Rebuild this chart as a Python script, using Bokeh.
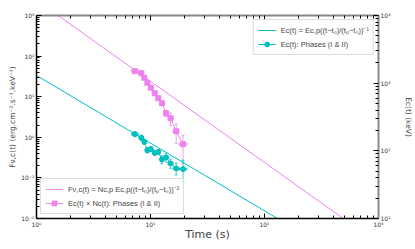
import numpy as np
from bokeh.plotting import figure
from bokeh.models import (Range1d, LogScale, LogAxis, FixedTicker, CustomJSTickFormatter,
                          Whisker, TeeHead, ColumnDataSource, Legend, LegendItem, Label)
from bokeh.embed import file_html
from bokeh.resources import INLINE

# ---------------- data ----------------
title_text = "160530667"
time_s = [7.30, 8.31, 8.83, 9.38, 10.07, 10.9, 11.7, 12.6, 13.7, 15.0, 16.8, 19.3]
time_err = [0.5, 0.35, 0.3, 0.3, 0.35, 0.4, 0.4, 0.45, 0.55, 0.7, 1.0, 1.6]
flux = [42.5, 37.9, 29.4, 22.1, 16.7, 12.2, 9.18, 6.92, 3.92, 2.95, 1.41, 0.676]
flux_err = [3.0, 3.0, 2.5, 2.0, 1.6, 1.2, 1.0, 0.9, 0.7, 1.0, 0.7, 0.45]
ec_kev = [176.6, 156.0, 136.0, 102.0, 106.0, 93.3, 96.6, 74.6, 80.0, 65.2, 55.0, 53.7]
ec_err = [15.0, 14.0, 12.0, 9.0, 9.0, 8.0, 8.0, 10.0, 12.0, 10.0, 11.0, 19.0]

flux_norm, flux_index = 2400.0, -2.0   # F(t) = norm * t^index
ec_norm, ec_index = 1300.0, -1.0       # Ec(t) = norm * t^index
model_t = [1.0, 1000.0]

x_decades = [0, 1, 2, 3]
y_decades = [-2, -1, 0, 1, 2, 3]
ec_decades = [1, 2, 3, 4]

MAG = "#EE82EE"
CYA = "#00BFBF"
FONT = "DejaVu Sans"

# ---------------- derived ----------------
t = np.array(time_s); te = np.array(time_err)
f = np.array(flux); fe = np.array(flux_err)
e = np.array(ec_kev); ee = np.array(ec_err)
mt = np.array(model_t)

src = ColumnDataSource(dict(t=t, t_lo=t - te, t_hi=t + te,
                            f=f, f_lo=f - fe, f_hi=f + fe,
                            e=e, e_lo=e - ee, e_hi=e + ee))
msrc = ColumnDataSource(dict(t=mt, f=flux_norm * mt ** flux_index, e=ec_norm * mt ** ec_index))

def ticker(decs):
    major = [10.0 ** d for d in decs]
    minor = [m * 10.0 ** d for d in decs[:-1] for m in range(2, 10)]
    return FixedTicker(ticks=major, minor_ticks=minor)

fmt_code = """
const sup = {"-":"\u207b","0":"\u2070","1":"\u00b9","2":"\u00b2","3":"\u00b3","4":"\u2074",
             "5":"\u2075","6":"\u2076","7":"\u2077","8":"\u2078","9":"\u2079"};
const e = Math.round(Math.log10(tick));
return "10" + String(e).split("").map(c => sup[c]).join("");
"""

p = figure(width=415, height=249, x_axis_type="log", y_axis_type="log",
           x_range=Range1d(10.0 ** x_decades[0], 10.0 ** x_decades[-1]),
           y_range=Range1d(10.0 ** y_decades[0], 10.0 ** y_decades[-1]),
           output_backend="svg", toolbar_location=None,
           min_border_left=36, min_border_right=34, min_border_top=15, min_border_bottom=31)
p.xgrid.visible = False
p.ygrid.visible = False
p.outline_line_color = "black"
p.outline_line_width = 1
p.background_fill_color = "white"

p.extra_y_ranges = {"ec": Range1d(10.0 ** ec_decades[0], 10.0 ** ec_decades[-1])}
p.extra_y_scales = {"ec": LogScale()}

def style_axis(ax, decs, label_size="6px"):
    ax.ticker = ticker(decs)
    ax.formatter = CustomJSTickFormatter(code=fmt_code)
    ax.major_tick_in = 5
    ax.major_tick_out = 0
    ax.minor_tick_in = 3
    ax.minor_tick_out = 0
    ax.major_label_text_font = FONT
    ax.major_label_text_font_size = label_size
    ax.major_label_text_color = "#333333"
    ax.axis_label_text_font = FONT
    ax.axis_label_text_font_style = "normal"
    ax.major_label_standoff = 2

xa = p.xaxis[0]
style_axis(xa, x_decades)
xa.axis_label = "Time (s)"
xa.axis_label_text_font_size = "11px"
xa.axis_label_standoff = -3
xa.axis_line_width = 1.5

ya = p.yaxis[0]
style_axis(ya, y_decades)
ya.axis_label = "F\u03bd,c(t) (erg.cm\u207b\u00b2.s\u207b\u00b9.keV\u207b\u00b9)"
ya.axis_label_text_font_size = "7.5px"
ya.axis_label_standoff = 1
ya.axis_line_width = 1.5

ra = LogAxis(y_range_name="ec")
style_axis(ra, ec_decades)
ra.axis_label = "Ec(t) (keV)"
ra.axis_label_text_font_size = "7.5px"
ra.axis_label_standoff = 10
ra.axis_line_color = "#888888"
ra.axis_line_width = 2
p.add_layout(ra, "right")

ta = LogAxis()
ta.ticker = ticker(x_decades)
ta.formatter = CustomJSTickFormatter(code="return '';")
ta.major_tick_in = 5; ta.major_tick_out = 0
ta.minor_tick_in = 3; ta.minor_tick_out = 0
ta.major_label_standoff = 0
ta.major_label_text_font_size = "1px"
ta.axis_line_color = "#888888"
ta.axis_line_width = 2
p.add_layout(ta, "above")

# model lines
f_model = p.line("t", "f", source=msrc, line_color=MAG, line_width=1)
e_model = p.line("t", "e", source=msrc, line_color=CYA, line_width=1, y_range_name="ec")

# flux data
for dim, base, lo, hi in [("height", "t", "f_lo", "f_hi"), ("width", "f", "t_lo", "t_hi")]:
    w = Whisker(base=base, lower=lo, upper=hi, dimension=dim, source=src,
                line_color=MAG, line_alpha=0.75, line_width=1,
                upper_head=TeeHead(size=3, line_color=MAG, line_alpha=0.75),
                lower_head=TeeHead(size=3, line_color=MAG, line_alpha=0.75))
    p.add_layout(w)
f_line = p.line("t", "f", source=src, line_color=MAG, line_width=1)
f_pts = p.scatter("t", "f", source=src, marker="square", size=5,
                  fill_color=MAG, line_color=MAG)

# ec data
for dim, base, lo, hi in [("height", "t", "e_lo", "e_hi"), ("width", "e", "t_lo", "t_hi")]:
    w = Whisker(base=base, lower=lo, upper=hi, dimension=dim, source=src, y_range_name="ec",
                line_color=CYA, line_alpha=0.75, line_width=1,
                upper_head=TeeHead(size=3, line_color=CYA, line_alpha=0.75),
                lower_head=TeeHead(size=3, line_color=CYA, line_alpha=0.75))
    p.add_layout(w)
e_line = p.line("t", "e", source=src, line_color=CYA, line_width=1, y_range_name="ec")
e_pts = p.scatter("t", "e", source=src, marker="circle", size=5,
                  fill_color=CYA, line_color=CYA, y_range_name="ec")

def style_legend(lg):
    lg.label_text_font = "Liberation Sans"
    lg.label_text_font_size = "7.5px"
    lg.glyph_width = 18
    lg.glyph_height = 12
    lg.label_height = 12
    lg.label_standoff = 5
    lg.padding = 4
    lg.spacing = 2
    lg.margin = 4
    lg.border_line_color = "#bbbbbb"
    lg.border_line_width = 1
    lg.background_fill_alpha = 0.85

leg1 = Legend(items=[
    LegendItem(label="Ec(t) = Ec,p((t\u2212t\u2080)/(t\u209a\u2212t\u2080))\u207b\u00b9", renderers=[e_model]),
    LegendItem(label="Ec(t): Phases (I & II)", renderers=[e_line, e_pts]),
], location="top_right")
style_legend(leg1)
p.add_layout(leg1)

leg2 = Legend(items=[
    LegendItem(label="F\u03bd,c(t) = Nc,p Ec,p((t\u2212t\u2080)/(t\u209a\u2212t\u2080))\u207b\u00b2", renderers=[f_model]),
    LegendItem(label="Ec(t) \u00d7 Nc(t): Phases (I & II)", renderers=[f_line, f_pts]),
], location="bottom_left")
style_legend(leg2)
p.add_layout(leg2)

title = Label(x=10.0 ** ((x_decades[0] + x_decades[-1]) / 2), y=10.0 ** (y_decades[-1] + 0.05),
              text=title_text, text_align="center", text_baseline="bottom",
              text_font=FONT, text_font_size="9px", text_color="black")
p.add_layout(title)

open("out.html", "w").write(file_html(p, INLINE))
